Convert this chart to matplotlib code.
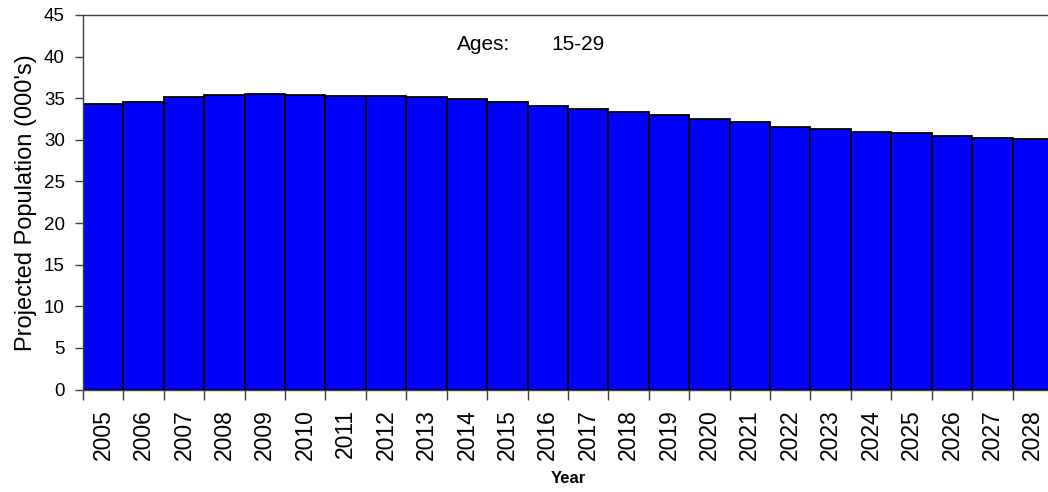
import matplotlib
matplotlib.use("Agg")
import matplotlib.pyplot as plt
import numpy as np

plt.rcParams['font.family'] = ['Liberation Sans', 'DejaVu Sans']

years = [str(y) for y in range(2005, 2029)]
population = [34.3, 34.6, 35.1, 35.4, 35.5, 35.4, 35.3, 35.3, 35.2, 34.95,
              34.6, 34.1, 33.7, 33.3, 33.0, 32.55, 32.2, 31.6, 31.3, 31.0,
              30.8, 30.5, 30.2, 30.1]
y_ticks = list(range(0, 50, 5))

fig = plt.figure(figsize=(10.48, 4.92), dpi=100)
ax = fig.add_axes([83/1048, 1 - 389.5/492, 970/1048, (389.5 - 15)/492])

x = np.arange(len(years))
ax.bar(x, population, width=1.0, color='#0000FF', edgecolor='black', linewidth=1.3)

ax.set_xlim(-0.5, len(years) - 0.5)
ax.set_ylim(0, 45)
ax.set_yticks(y_ticks)
ax.set_yticklabels([str(v) for v in y_ticks], fontsize=13.5)

ax.set_xticks(np.arange(-0.5, len(years), 1.0))
ax.set_xticklabels([])
ax.set_xticks(x, minor=True)
ax.set_xticklabels(years, minor=True, rotation=90, fontsize=16.5)
ax.tick_params(axis='x', which='major', length=7, width=1, color='#404040')
ax.tick_params(axis='x', which='minor', length=0, pad=14)
ax.tick_params(axis='y', length=6, width=1, color='#404040', pad=7)

for s in ax.spines.values():
    s.set_linewidth(1)
    s.set_color('#404040')

ax.set_ylabel("Projected Population (000's)", fontsize=17, labelpad=5)
ax.set_xlabel("Year", fontsize=12, fontweight='bold', labelpad=8)

ty = 1 - (44.5 - 15)/374.5
ax.text((484 - 83)/970, ty, "Ages:", transform=ax.transAxes,
        fontsize=15, ha='center', va='center')
ax.text((578 - 83)/970, ty, "15-29", transform=ax.transAxes,
        fontsize=15, ha='center', va='center')

fig.savefig("out.png", dpi=100)
